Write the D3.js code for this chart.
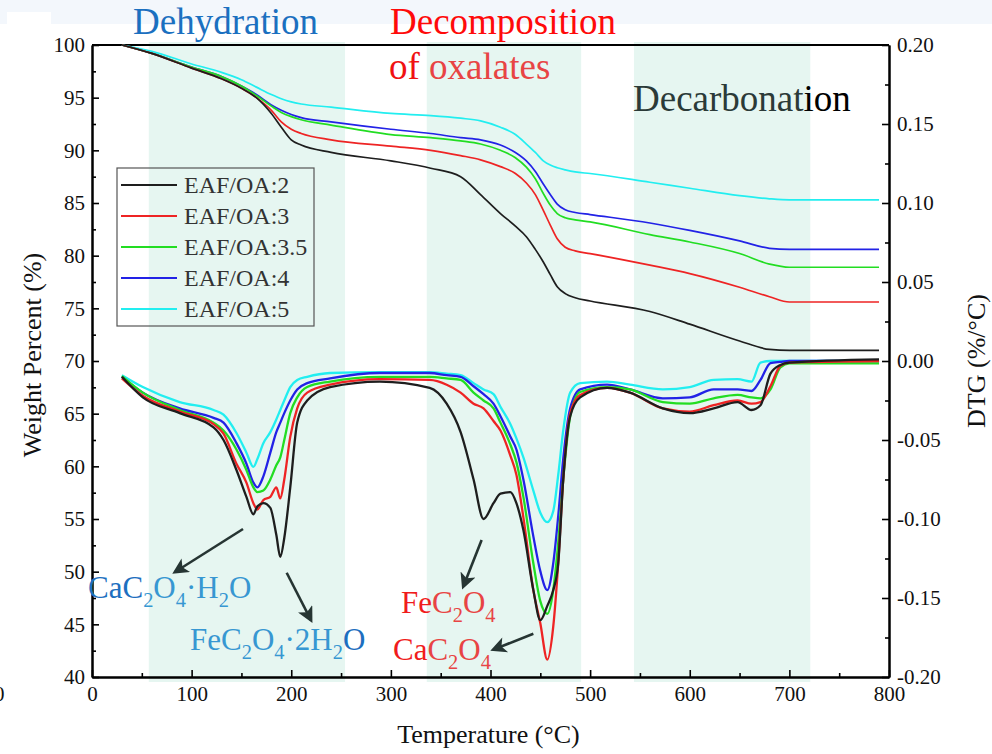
<!DOCTYPE html>
<meta charset="utf-8">
<script src="https://cdn.jsdelivr.net/npm/d3@7"></script>
<style>
    body { margin: 0; background: #fff; }
    svg text { font-family: "Liberation Serif", "Times New Roman", serif; }
</style>
<svg id="chart"></svg>
<script>
    // series names and colours
    var series = ["EAF/OA:2", "EAF/OA:3", "EAF/OA:3.5", "EAF/OA:4", "EAF/OA:5"];
    var colors = ["#1e1e1e", "#ee2424", "#22dd22", "#2222e6", "#22eef0"];

    // TG curves (weight %)
    var tgTemp = [30, 60, 100, 130, 150, 165, 180, 190, 200, 210, 240, 300, 340, 370, 390, 410, 425, 436, 445, 453, 460, 467, 475, 485, 500, 560, 600, 650, 680, 700, 790];
    var tg2   = [100, 99.2, 97.8, 96.8, 95.9, 95.0, 93.5, 92.2, 91.0, 90.5, 89.8, 89.0, 88.3, 87.5, 85.8, 84.0, 82.8, 81.8, 80.6, 79.4, 78.2, 77.05, 76.4, 76.0, 75.7, 74.7, 73.5, 71.9, 71.1, 71.0, 71.0];
    var tg3   = [100, 99.2, 97.8, 96.8, 95.9, 95.0, 93.8, 92.7, 92.0, 91.6, 91.0, 90.4, 90.0, 89.5, 89.1, 88.45, 87.8, 86.9, 85.8, 84.3, 82.9, 81.6, 80.8, 80.45, 80.2, 79.1, 78.3, 77.0, 76.1, 75.6, 75.6];
    var tg35  = [100, 99.2, 97.9, 97.0, 96.1, 95.2, 94.2, 93.6, 93.2, 92.9, 92.4, 91.5, 91.2, 90.9, 90.6, 90.0, 89.3, 88.4, 87.3, 85.9, 84.8, 84.0, 83.6, 83.4, 83.2, 82.0, 81.3, 80.2, 79.2, 78.9, 78.9];
    var tg4   = [100, 99.2, 97.9, 97.0, 96.1, 95.3, 94.3, 93.8, 93.4, 93.1, 92.7, 92.0, 91.6, 91.2, 91.0, 90.5, 89.8, 89.0, 88.0, 86.8, 85.8, 84.9, 84.35, 84.1, 83.9, 83.1, 82.4, 81.4, 80.7, 80.6, 80.6];
    var tg5   = [100, 99.4, 98.2, 97.4, 96.7, 96.0, 95.3, 94.9, 94.6, 94.4, 94.1, 93.5, 93.3, 93.05, 92.8, 92.2, 91.5, 90.6, 89.8, 89.0, 88.6, 88.35, 88.15, 87.95, 87.8, 86.97, 86.4, 85.7, 85.4, 85.3, 85.3];
    var tgAll = [tg2, tg3, tg35, tg4, tg5];

    // DTG curves (%/°C)
    var dtgTemp = [30, 51, 88, 122, 132, 145, 155, 162, 166, 172, 179, 185, 189, 193, 199, 206, 216, 239, 289, 339, 356, 370, 383, 393, 403, 410, 420, 426, 433, 443, 450, 457, 463, 468, 473, 480, 490, 517, 540, 573, 600, 624, 648, 662, 671, 681, 691, 700, 790];
    var dtg2  = [-0.010, -0.023, -0.033, -0.042, -0.050, -0.069, -0.086, -0.097, -0.092, -0.090, -0.093, -0.110, -0.124, -0.112, -0.080, -0.039, -0.025, -0.0165, -0.013, -0.017, -0.027, -0.045, -0.075, -0.100, -0.090, -0.084, -0.083, -0.090, -0.107, -0.145, -0.164, -0.155, -0.145, -0.128, -0.075, -0.035, -0.023, -0.017, -0.020, -0.030, -0.033, -0.030, -0.026, -0.031, -0.028, -0.008, -0.0025, -0.001, 0.001];
    var dtg3  = [-0.011, -0.022, -0.032, -0.040, -0.046, -0.065, -0.077, -0.090, -0.094, -0.088, -0.086, -0.080, -0.087, -0.075, -0.048, -0.030, -0.020, -0.015, -0.0115, -0.012, -0.015, -0.020, -0.027, -0.030, -0.038, -0.044, -0.060, -0.072, -0.099, -0.145, -0.166, -0.189, -0.168, -0.128, -0.075, -0.033, -0.0215, -0.017, -0.020, -0.030, -0.032, -0.028, -0.025, -0.027, -0.026, -0.016, -0.003, -0.001, 0.0];
    var dtg35 = [-0.0095, -0.020, -0.031, -0.039, -0.044, -0.056, -0.069, -0.080, -0.083, -0.082, -0.075, -0.066, -0.061, -0.050, -0.033, -0.023, -0.0165, -0.013, -0.010, -0.010, -0.011, -0.012, -0.020, -0.025, -0.030, -0.039, -0.053, -0.064, -0.086, -0.128, -0.152, -0.160, -0.145, -0.115, -0.075, -0.035, -0.0196, -0.0165, -0.018, -0.026, -0.027, -0.0236, -0.0215, -0.023, -0.0236, -0.018, -0.004, -0.0015, -0.0015];
    var dtg4  = [-0.010, -0.020, -0.030, -0.036, -0.039, -0.052, -0.065, -0.077, -0.080, -0.073, -0.058, -0.045, -0.039, -0.033, -0.025, -0.018, -0.014, -0.011, -0.0076, -0.0076, -0.009, -0.010, -0.016, -0.021, -0.027, -0.035, -0.048, -0.056, -0.075, -0.111, -0.133, -0.145, -0.128, -0.098, -0.062, -0.030, -0.018, -0.015, -0.018, -0.0236, -0.023, -0.018, -0.018, -0.019, -0.012, -0.0013, -0.0005, 0.0, 0.0];
    var dtg5  = [-0.009, -0.0165, -0.026, -0.031, -0.034, -0.0456, -0.058, -0.067, -0.062, -0.052, -0.045, -0.037, -0.031, -0.025, -0.0165, -0.012, -0.010, -0.0076, -0.007, -0.007, -0.008, -0.009, -0.014, -0.018, -0.021, -0.029, -0.040, -0.049, -0.061, -0.082, -0.096, -0.102, -0.095, -0.072, -0.044, -0.020, -0.014, -0.013, -0.015, -0.018, -0.0165, -0.012, -0.0115, -0.013, -0.001, 0.0, 0.0, 0.0, 0.0];
    var dtgAll = [dtg2, dtg3, dtg35, dtg4, dtg5];

    // shaded temperature ranges
    var bandStart = [57, 336, 544];
    var bandEnd = [254, 491, 721];

    // annotation arrows: [T tail, W tail, T head, W head] in weight-axis units
    var arrowTailT = [151.6, 195.4, 391.1, 443.0];
    var arrowTailW = [54.05, 49.9, 53.0, 44.1];
    var arrowHeadT = [83.3, 219.8, 372.7, 402.8];
    var arrowHeadW = [49.97, 45.4, 48.6, 42.6];

    var xTicks = d3.range(0, 801, 100);
    var yLeftTicks = d3.range(40, 101, 5);
    var yRightTicks = [-0.20, -0.15, -0.10, -0.05, 0.00, 0.05, 0.10, 0.15, 0.20];

    var W = 992, H = 754;
    var margin = { top: 45, right: 103, bottom: 77, left: 92 },
        width = W - margin.left - margin.right,
        height = H - margin.top - margin.bottom;

    var svg = d3.select("#chart").attr("width", W).attr("height", H);

    var x = d3.scaleLinear().domain([0, 800]).range([margin.left, margin.left + width]);
    var yL = d3.scaleLinear().domain([40, 100]).range([margin.top + height, margin.top]);
    var yR = d3.scaleLinear().domain([-0.2, 0.2]).range([margin.top + height, margin.top]);

    // top strip of the screenshot
    svg.append("rect").attr("x", 0).attr("y", 0).attr("width", W).attr("height", 24).attr("fill", "#f3f7fc");
    svg.append("rect").attr("x", 7).attr("y", 12).attr("width", 44).attr("height", 14).attr("fill", "#fff");

    // bands
    svg.append("g").selectAll("rect")
        .data(bandStart)
        .enter().append("rect")
        .attr("x", function(d) { return x(d); })
        .attr("width", function(d, i) { return x(bandEnd[i]) - x(d); })
        .attr("y", margin.top - 3)
        .attr("height", height + 8)
        .attr("fill", "#e6f6f1");

    // titles of the stages
    var tl = svg.append("g").style("font-size", "37px");
    tl.append("text").attr("x", 133).attr("y", 34).attr("fill", "#1b70c0").text("Dehydration");
    tl.append("text").attr("x", 390).attr("y", 34).attr("fill", "#ff0a0a").text("Decomposition");
    var ox = tl.append("text").attr("x", 389).attr("y", 79);
    ox.append("tspan").attr("fill", "#f01212").text("of ");
    ox.append("tspan").attr("fill", "#e84444").text("oxalates");
    var dc = tl.append("text").attr("x", 633).attr("y", 111);
    dc.append("tspan").attr("fill", "#2b3a38").text("Decarbonat");
    dc.append("tspan").attr("fill", "#000").text("ion");

    // axes
    function styleAxis(g) {
        g.select(".domain").attr("stroke", "#000").attr("stroke-width", 2);
        g.selectAll(".tick line").attr("stroke", "#000").attr("stroke-width", 1.6);
        g.selectAll(".tick text").attr("fill", "#111").style("font-size", "21px")
            .style("font-family", "'Liberation Serif', 'Times New Roman', serif");
    }

    svg.append("g")
        .attr("transform", "translate(0," + (margin.top + height) + ")")
        .call(d3.axisBottom(x).tickValues(d3.range(50, 800, 100)).tickSize(-4).tickSizeOuter(0).tickFormat(""))
        .call(styleAxis);
    svg.append("g")
        .attr("transform", "translate(0," + (margin.top + height) + ")")
        .call(d3.axisBottom(x).tickValues(xTicks).tickSize(-7).tickSizeOuter(0).tickPadding(9))
        .call(styleAxis);

    svg.append("g")
        .attr("transform", "translate(" + margin.left + ",0)")
        .call(d3.axisLeft(yL).tickValues(d3.range(42.5, 100, 5)).tickSize(-4).tickSizeOuter(0).tickFormat(""))
        .call(styleAxis);
    svg.append("g")
        .attr("transform", "translate(" + margin.left + ",0)")
        .call(d3.axisLeft(yL).tickValues(yLeftTicks).tickSize(-7).tickSizeOuter(0).tickPadding(7))
        .call(styleAxis);

    svg.append("g")
        .attr("transform", "translate(" + (margin.left + width) + ",0)")
        .call(d3.axisRight(yR).tickValues(d3.range(-0.175, 0.2, 0.05)).tickSize(-4).tickSizeOuter(0).tickFormat(""))
        .call(styleAxis);
    svg.append("g")
        .attr("transform", "translate(" + (margin.left + width) + ",0)")
        .call(d3.axisRight(yR).tickValues(yRightTicks).tickSize(-7).tickSizeOuter(0).tickPadding(8)
            .tickFormat(function(d) { return d.toFixed(2); }))
        .call(styleAxis);

    svg.append("line")
        .attr("x1", margin.left).attr("x2", margin.left + width)
        .attr("y1", margin.top).attr("y2", margin.top)
        .attr("stroke", "#000").attr("stroke-width", 2);

    // clipped "0" at the far left edge of the screenshot
    svg.append("text").attr("x", -6).attr("y", 701).style("font-size", "21px").attr("fill", "#111").text("0");

    // axis titles
    svg.append("text")
        .attr("x", x(400) - 2).attr("y", 743)
        .attr("text-anchor", "middle").style("font-size", "26px").attr("fill", "#111")
        .text("Temperature (\u00B0C)");
    svg.append("text")
        .attr("transform", "translate(41," + 355 + ") rotate(-90)")
        .attr("text-anchor", "middle").style("font-size", "26px").attr("fill", "#111")
        .text("Weight Percent (%)");
    svg.append("text")
        .attr("transform", "translate(985," + 361 + ") rotate(-90)")
        .attr("text-anchor", "middle").style("font-size", "26px").attr("fill", "#111")
        .text("DTG (%/\u00B0C)");

    // DTG lines
    var dtgLine = d3.line()
        .x(function(d) { return x(d[0]); })
        .y(function(d) { return yR(d[1]); })
        .curve(d3.curveMonotoneX);
    var tgLine = d3.line()
        .x(function(d) { return x(d[0]); })
        .y(function(d) { return yL(d[1]); })
        .curve(d3.curveMonotoneX);

    var order = [4, 3, 2, 1, 0];
    svg.append("g").selectAll("path")
        .data(order)
        .enter().append("path")
        .attr("d", function(i) { return dtgLine(dtgTemp.map(function(t, k) { return [t, dtgAll[i][k]]; })); })
        .attr("fill", "none")
        .attr("stroke", function(i) { return colors[i]; })
        .attr("stroke-width", 2.3)
        .attr("stroke-linejoin", "round");

    svg.append("g").selectAll("path")
        .data(order)
        .enter().append("path")
        .attr("d", function(i) { return tgLine(tgTemp.map(function(t, k) { return [t, tgAll[i][k]]; })); })
        .attr("fill", "none")
        .attr("stroke", function(i) { return colors[i]; })
        .attr("stroke-width", 1.7);

    // legend
    var legend = svg.append("g");
    legend.append("rect")
        .attr("x", 117).attr("y", 168).attr("width", 197).attr("height", 158)
        .attr("fill", "none").attr("stroke", "#555").attr("stroke-width", 1.2);
    series.forEach(function(s, i) {
        var ly = 185 + i * 31;
        legend.append("line")
            .attr("x1", 121).attr("x2", 177).attr("y1", ly).attr("y2", ly)
            .attr("stroke", colors[i]).attr("stroke-width", 2);
        legend.append("text")
            .attr("x", 184).attr("y", ly + 8)
            .style("font-size", "24px").attr("fill", "#333")
            .text(s);
    });

    // arrows
    var defs = svg.append("defs");
    defs.append("marker")
        .attr("id", "head")
        .attr("viewBox", "0 0 10 10")
        .attr("refX", 8).attr("refY", 5)
        .attr("markerWidth", 19).attr("markerHeight", 16)
        .attr("markerUnits", "userSpaceOnUse")
        .attr("orient", "auto")
        .append("path")
        .attr("d", "M0,0 L10,5 L0,10 L2.5,5 Z")
        .attr("fill", "#263533");

    svg.append("g").selectAll("line")
        .data(arrowTailT)
        .enter().append("line")
        .attr("x1", function(d) { return x(d); })
        .attr("y1", function(d, i) { return yL(arrowTailW[i]); })
        .attr("x2", function(d, i) { return x(arrowHeadT[i]); })
        .attr("y2", function(d, i) { return yL(arrowHeadW[i]); })
        .attr("stroke", "#263533")
        .attr("stroke-width", 2.6)
        .attr("marker-end", "url(#head)");

    // chemical formula labels
    function formula(px, py, size, parts) {
        var t = svg.append("text").attr("x", px).attr("y", py).style("font-size", size + "px");
        var shift = 0;
        parts.forEach(function(p) {
            var target = p.sub ? size * 0.3 : 0;
            t.append("tspan")
                .attr("dy", target - shift)
                .style("font-size", p.sub ? (size * 0.66) + "px" : null)
                .attr("fill", p.c)
                .text(p.t);
            shift = target;
        });
    }
    var blueA = "#1d6fbf", blueB = "#3797d2", redA = "#f01c1c", redB = "#e84444";
    formula(x(-4), yL(47.5), 31, [
        { t: "CaC", c: blueA }, { t: "2", sub: 1, c: blueB }, { t: "O", c: blueB }, { t: "4", sub: 1, c: blueB },
        { t: "\u00B7H", c: blueB }, { t: "2", sub: 1, c: blueB }, { t: "O", c: blueB }]);
    formula(x(98.4), yL(42.56), 31, [
        { t: "FeC", c: blueB }, { t: "2", sub: 1, c: blueB }, { t: "O", c: blueB }, { t: "4", sub: 1, c: blueB },
        { t: "\u00B72H", c: blueB }, { t: "2", sub: 1, c: blueB }, { t: "O", c: blueA }]);
    formula(x(310.2), yL(46.07), 31, [
        { t: "Fe", c: redA }, { t: "C", c: redB }, { t: "2", sub: 1, c: redB }, { t: "O", c: redB }, { t: "4", sub: 1, c: redB }]);
    formula(x(302.1), yL(41.6), 31, [
        { t: "Ca", c: redA }, { t: "C", c: redB }, { t: "2", sub: 1, c: redB }, { t: "O", c: redB }, { t: "4", sub: 1, c: redB }]);
</script>
